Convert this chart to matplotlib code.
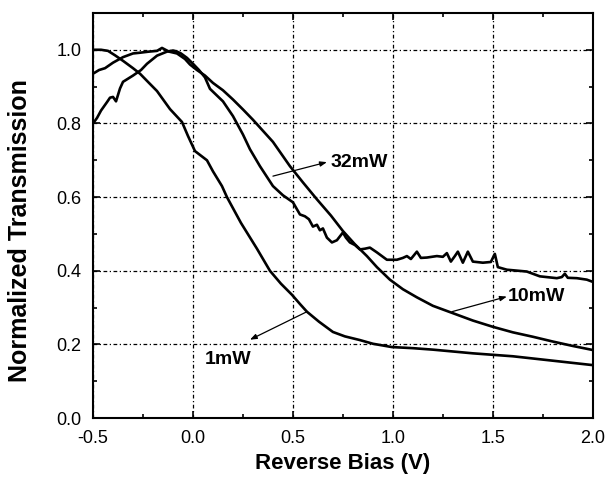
import matplotlib
matplotlib.use("Agg")
import matplotlib.pyplot as plt
from matplotlib.ticker import MultipleLocator

plt.rcParams['font.family'] = ['Liberation Sans', 'DejaVu Sans']

# ---- data ----
v_1mw = [-0.5, -0.46, -0.425, -0.39, -0.35, -0.30, -0.265, -0.22, -0.18, -0.115,
         -0.055, -0.025, 0.01, 0.07, 0.10, 0.145, 0.17, 0.24, 0.32, 0.385, 0.44,
         0.495, 0.535, 0.57, 0.63, 0.70, 0.76, 0.835, 0.9, 0.995, 1.1, 1.2, 1.3,
         1.4, 1.5, 1.6, 1.7, 1.8, 1.9, 2.0]
t_1mw = [1.0, 1.0, 0.997, 0.985, 0.97, 0.95, 0.935, 0.91, 0.888, 0.839,
         0.804, 0.766, 0.725, 0.70, 0.67, 0.63, 0.60, 0.53, 0.46, 0.40, 0.365,
         0.335, 0.31, 0.289, 0.262, 0.234, 0.222, 0.212, 0.202, 0.193, 0.19, 0.186,
         0.181, 0.176, 0.172, 0.168, 0.162, 0.156, 0.150, 0.144]

v_10mw = [-0.5, -0.47, -0.44, -0.40, -0.35, -0.30, -0.265, -0.22, -0.18, -0.155,
          -0.12, -0.08, -0.04, -0.015, 0.02, 0.06, 0.10, 0.15, 0.20, 0.25, 0.30,
          0.35, 0.40, 0.485, 0.55, 0.62, 0.69, 0.75, 0.81, 0.87, 0.92, 0.985,
          1.05, 1.12, 1.2, 1.295, 1.4, 1.5, 1.6, 1.7, 1.8, 1.9, 2.0]
t_10mw = [0.935, 0.945, 0.95, 0.965, 0.98, 0.99, 0.992, 0.995, 0.997, 1.005,
          0.995, 0.99, 0.975, 0.96, 0.945, 0.93, 0.91, 0.89, 0.865, 0.838, 0.81,
          0.78, 0.75, 0.684, 0.64, 0.594, 0.55, 0.508, 0.472, 0.44, 0.41, 0.376,
          0.35, 0.328, 0.305, 0.286, 0.265, 0.248, 0.233, 0.221, 0.208, 0.196, 0.185]

v_32mw = [-0.5, -0.48, -0.46, -0.43, -0.415, -0.40, -0.385, -0.365, -0.35, -0.30,
          -0.26, -0.23, -0.18, -0.13, -0.10, -0.08, -0.06, -0.03, 0.0, 0.03,
          0.06, 0.085, 0.15, 0.20, 0.25, 0.285, 0.335, 0.40, 0.45, 0.50, 0.535,
          0.56, 0.58, 0.60, 0.62, 0.635, 0.65, 0.67, 0.695, 0.72, 0.75, 0.765,
          0.785, 0.81, 0.835, 0.86, 0.885, 0.92, 0.97, 1.02, 1.05, 1.07, 1.09,
          1.12, 1.14, 1.17, 1.22, 1.25, 1.27, 1.29, 1.31, 1.325, 1.35, 1.375,
          1.40, 1.45, 1.49, 1.51, 1.525, 1.57, 1.67, 1.735, 1.82, 1.845, 1.86,
          1.875, 1.92, 1.97, 2.0]
t_32mw = [0.80, 0.815, 0.835, 0.858, 0.87, 0.872, 0.86, 0.895, 0.913, 0.93,
          0.945, 0.962, 0.984, 0.995, 0.998, 0.995, 0.99, 0.978, 0.962, 0.945,
          0.925, 0.894, 0.86, 0.82, 0.77, 0.73, 0.684, 0.63, 0.605, 0.586, 0.553,
          0.548, 0.54, 0.52, 0.525, 0.51, 0.515, 0.49, 0.477, 0.483, 0.504, 0.49,
          0.477, 0.47, 0.458, 0.46, 0.463, 0.45, 0.43, 0.43, 0.435, 0.44, 0.432,
          0.452, 0.435, 0.436, 0.44, 0.438, 0.448, 0.425, 0.44, 0.452, 0.422, 0.452,
          0.425, 0.422, 0.424, 0.446, 0.41, 0.403, 0.398, 0.385, 0.38, 0.383, 0.392,
          0.381, 0.38, 0.376, 0.37]

x_ticks = [-0.5, 0.0, 0.5, 1.0, 1.5, 2.0]
y_ticks = [0.0, 0.2, 0.4, 0.6, 0.8, 1.0]

fig = plt.figure(figsize=(6.08, 4.79), dpi=100)
ax = fig.add_axes([0.153, 0.127, 0.822, 0.846])

for v, t in ((v_1mw, t_1mw), (v_10mw, t_10mw), (v_32mw, t_32mw)):
    ax.plot(v, t, color='black', lw=1.9, solid_joinstyle='round')

ax.set_xlim(-0.5, 2.0)
ax.set_ylim(0.0, 1.1)
ax.set_xticks(x_ticks)
ax.set_yticks(y_ticks)
ax.set_xticklabels([f"{x:.1f}" for x in x_ticks])
ax.set_yticklabels([f"{y:.1f}" for y in y_ticks])
ax.xaxis.set_minor_locator(MultipleLocator(0.25))
ax.yaxis.set_minor_locator(MultipleLocator(0.1))
ax.tick_params(which='both', direction='in', top=True, right=True, width=1.2,
               labelsize=13, pad=8.5)
ax.tick_params(which='major', length=5)
ax.tick_params(which='minor', length=3)
ax.grid(True, which='major', color='black', linestyle=(0, (3, 2, 1, 2)), lw=0.9)
for s in ax.spines.values():
    s.set_linewidth(1.5)

ax.set_xlabel('Reverse Bias (V)', fontsize=16, fontweight='bold')
ax.set_ylabel('Normalized Transmission', fontsize=18, fontweight='bold')
ax.xaxis.set_label_coords(0.5, -0.087)
ax.yaxis.set_label_coords(-0.122, 0.462)

arrow = dict(arrowstyle='-|>,head_length=0.4,head_width=0.15', color='black', lw=0.9,
             shrinkA=0, shrinkB=0)
ax.annotate('', xy=(0.67, 0.695), xytext=(0.40, 0.657), arrowprops=arrow)
ax.text(0.69, 0.695, '32mW', fontsize=14, fontweight='bold', va='center', ha='left')
ax.annotate('', xy=(1.57, 0.33), xytext=(1.295, 0.289), arrowprops=arrow)
ax.text(1.575, 0.33, '10mW', fontsize=14, fontweight='bold', va='center', ha='left')
ax.annotate('', xy=(0.285, 0.213), xytext=(0.57, 0.289), arrowprops=arrow)
ax.text(0.06, 0.158, '1mW', fontsize=14, fontweight='bold', va='center', ha='left')

fig.savefig('out.png', dpi=100)
